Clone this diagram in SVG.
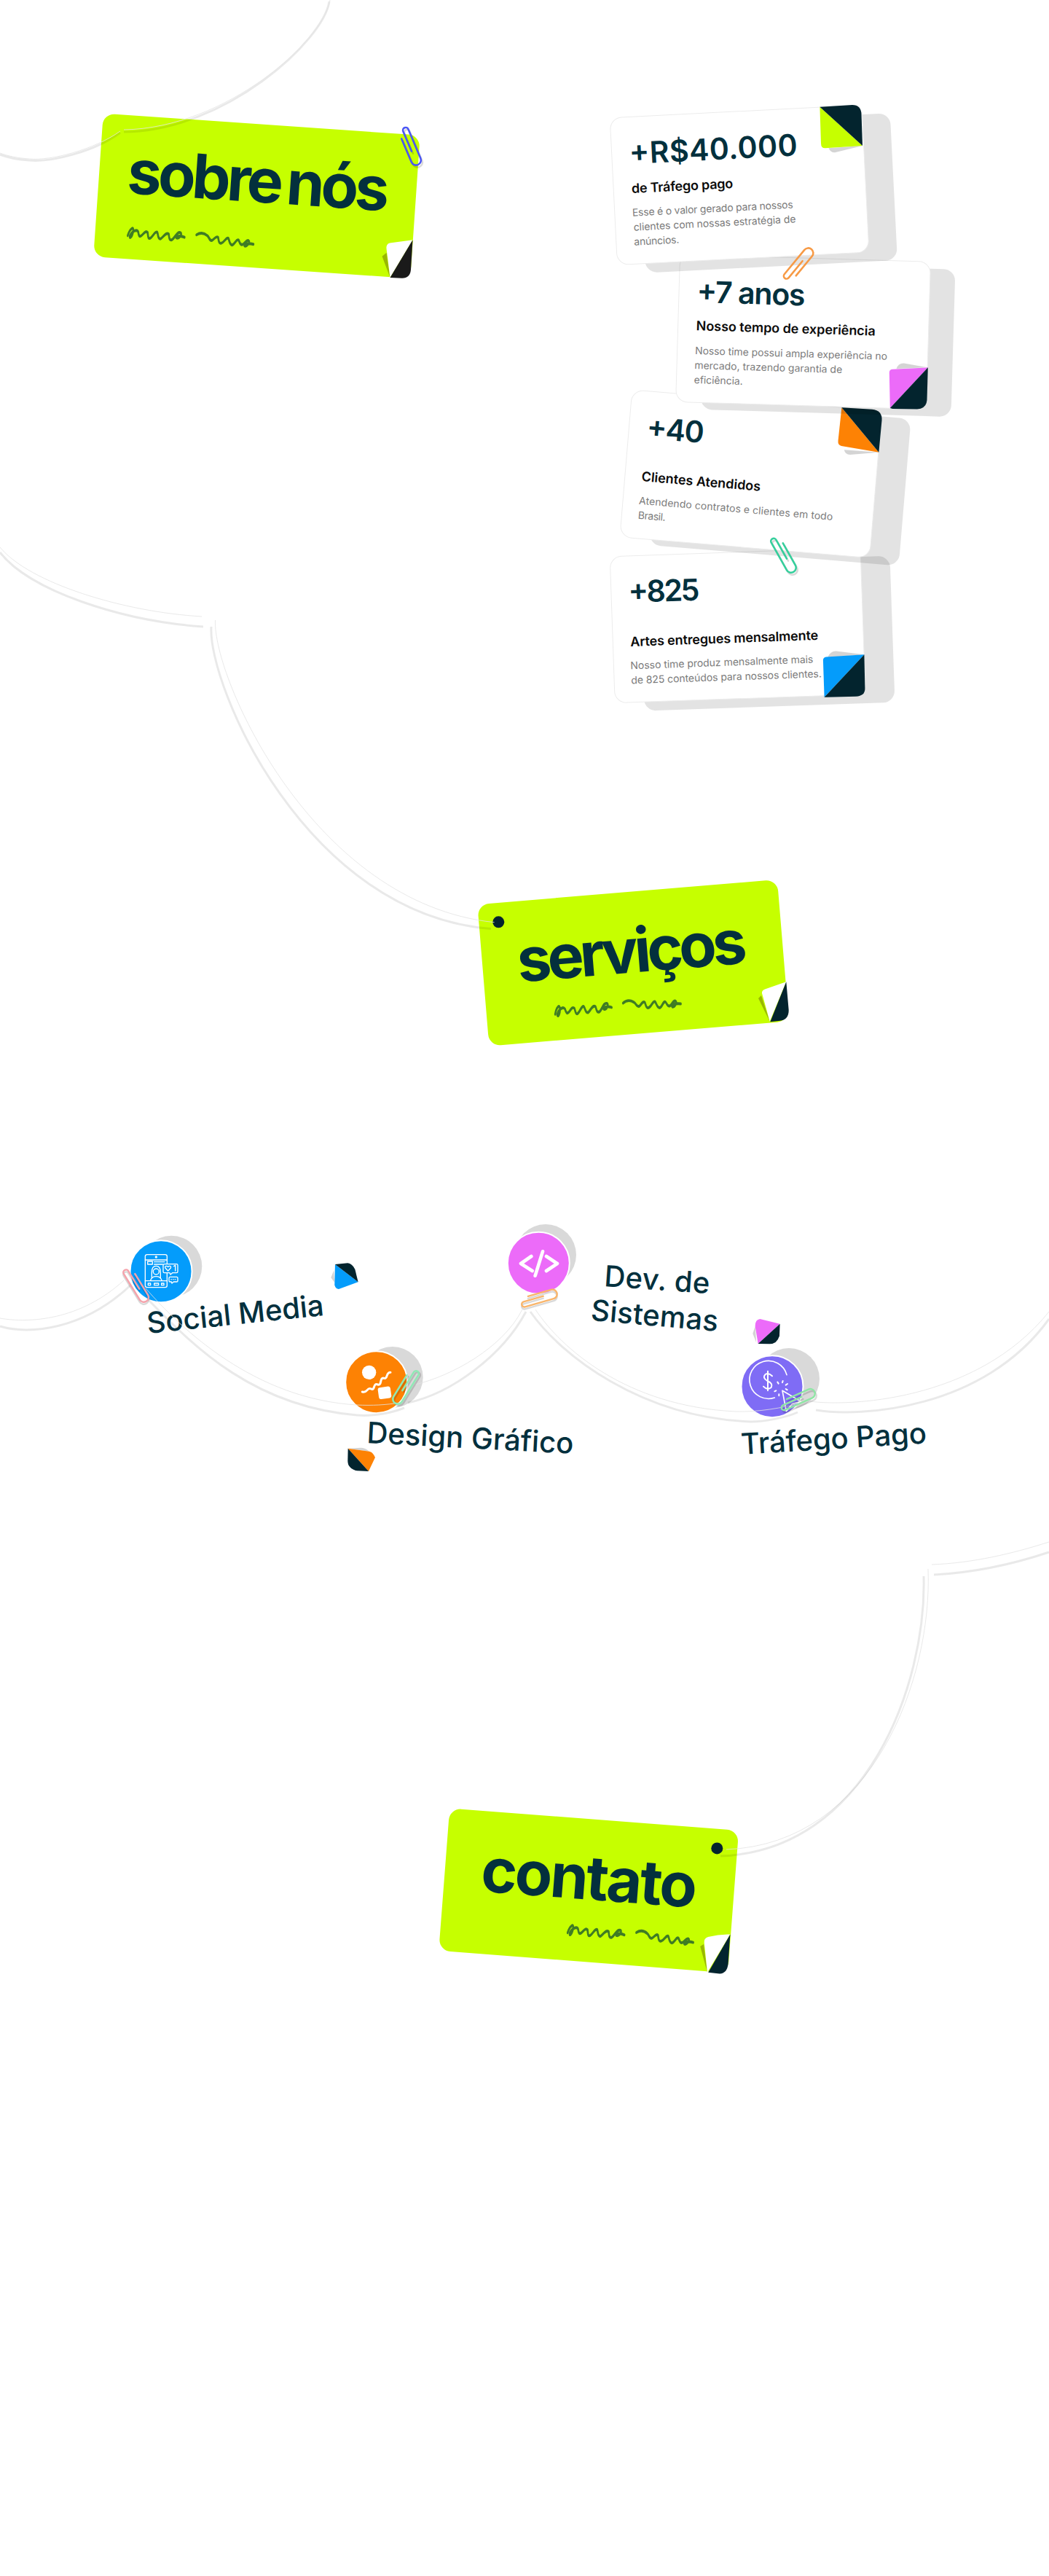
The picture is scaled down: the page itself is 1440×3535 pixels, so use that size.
<svg xmlns="http://www.w3.org/2000/svg" xmlns:xlink="http://www.w3.org/1999/xlink" width="1440" height="3535" viewBox="0 0 1440 3535">
<style>
text{font-family:Inter,"Liberation Sans",sans-serif}
.tag{fill:#c6ff00}
.big{font-size:84px;font-weight:700;fill:#03303d}
.sq{fill:none;stroke:#3f7c24;stroke-width:2.6;stroke-linecap:round;stroke-linejoin:round}
.card{fill:#fff;stroke:#ececec;stroke-width:1}
.shade{fill:#000;fill-opacity:.11}
.fshade{fill:#000;fill-opacity:.17}
.num{font-size:41px;font-weight:600;fill:#03303d}
.ttl{font-size:18px;font-weight:600;fill:#0b0b0b}
.dsc{font-size:14px;font-weight:400;fill:#7c7c7c}
.dark{fill:#03242e}
.lbl{font-size:40px;font-weight:500;fill:#03303d}
.disc{fill:#d9d9d9}
.ring{stroke:#fff;stroke-width:2}
.ico{fill:none;stroke:#fff;stroke-linecap:round;stroke-linejoin:round}
.thin{fill:none;stroke:#e4e4e4;stroke-opacity:.8;stroke-width:1}
.soft{fill:none;stroke:#000;stroke-opacity:.085;stroke-width:3;filter:url(#b)}
.clip{fill:none;stroke-width:3;stroke-linecap:round;stroke-linejoin:round}
.cs{stroke:#000;stroke-opacity:.15}
</style>
<defs>
<filter id="b" x="-5%" y="-5%" width="110%" height="110%"><feGaussianBlur stdDeviation=".7"/></filter>
<g id="squiggle">
<path d="M1 6C3 0 9 -4 8 2C7 8 3 9 4 6C6 2 13 -1 15 2C16 5 17 7 20 5C23 3 25 0 28 2C29 5 29 8 32 7C36 5 38 0 41 1C43 3 42 7 46 7C49 6 53 0 57 2C58 5 58 8 62 7C66 5 68 -1 73 0C76 1 72 6 68 5C66 4 72 2 79 4"/>
<path d="M95 1C101 -2 106 -1 110 1C113 2 113 6 117 5C120 4 122 0 125 2C126 4 126 8 130 7C134 6 136 1 139 2C141 4 141 8 145 8C149 7 150 2 153 3C155 4 155 8 159 7C162 6 164 2 167 3C170 4 165 9 162 8C160 6 167 5 174 6"/>
</g>
<path id="clip" d="M15 8L56 8A8 8 0 0 0 56 -8L5 -8A4.5 4.5 0 0 0 5 1L40 1"/>
</defs>

<g id="tag-sobre-nos">
<g transform="translate(141.8 155.6) rotate(3.95)">
<rect class="tag" width="436" height="197" rx="16"/>
<text class="big" x="39" y="107" word-spacing="-6" textLength="360">sobre nós</text>
<use href="#squiggle" class="sq" transform="translate(44 156) scale(1 1.5)"/>
</g>
<path d="M530.6 346.7L524.5 351.7L535.5 381Z" fill="#99b800"/>
<path d="M535.5 381L530.6 342Q529.5 335 535 333.5L566.5 329.3Z" fill="#fff"/>
<path d="M566.5 329.3L564 370Q563 381.7 552 381.7L535.5 381Z" fill="#1a1a1a"/>
</g>

<g id="stat-825">
<rect class="shade" width="344" height="201" rx="16" transform="translate(877.7 774.8) rotate(-2)"/>
<g transform="translate(837.2 763.8) rotate(-2)">
<rect class="card" width="344" height="201" rx="16"/>
<text class="num" x="23.5" y="64" textLength="98">+825</text>
<text class="ttl" x="24" y="124" textLength="258">Artes entregues mensalmente</text>
<text class="dsc" x="23" y="155.4" textLength="251">Nosso time produz mensalmente mais</text>
<text class="dsc" x="23.2" y="175.5" textLength="261.6">de 825 conteúdos para nossos clientes.</text>
</g>
<path class="fshade" d="M1136 902Q1140 893 1148 893.5L1186.4 898.3Z"/>
<path d="M1134 901.5L1186.4 898.3L1131.6 956.7L1129.9 906Q1130 902 1134 901.5Z" fill="#049cfb"/>
<path class="dark" d="M1186.4 898.3L1187.4 945Q1187.4 955 1175 955.7L1135 956.7L1131.6 956.7Z"/>
</g>

<g id="stat-40">
<rect class="shade" width="344" height="202.5" rx="16" transform="translate(907.8 546) rotate(4.8)"/>
<g transform="translate(867.8 535) rotate(4.8)">
<rect class="card" width="344" height="202.5" rx="16"/>
<text class="num" x="24.5" y="64.7" textLength="79">+40</text>
<text class="ttl" x="22.8" y="123.6" textLength="164">Clientes Atendidos</text>
<text class="dsc" x="22.1" y="155.4" textLength="267">Atendendo contratos e clientes em todo</text>
<text class="dsc" x="22.4" y="175.4" textLength="38">Brasil.</text>
</g>
<path class="fshade" d="M1158.8 617.3Q1160 624 1167 624L1206.4 620.7Z"/>
<path d="M1155.4 559.3L1206.4 620.7L1155 612Q1150 610.5 1150.5 605Z" fill="#fd8204"/>
<path class="dark" d="M1155.4 559.3L1197 561.7Q1211.5 563 1210.5 577L1206.4 620.7Z"/>
</g>

<g id="stat-7-anos">
<rect class="shade" width="344" height="202.5" rx="16" transform="translate(967.6 359.5) rotate(1.7)"/>
<g transform="translate(933.6 349) rotate(1.7)">
<rect class="card" width="344" height="202.5" rx="16"/>
<text class="num" x="24.5" y="65.2" textLength="149">+7 anos</text>
<text class="ttl" x="25.1" y="103.6" textLength="246">Nosso tempo de experiência</text>
<text class="dsc" x="24.4" y="136.3" textLength="264">Nosso time possui ampla experiência no</text>
<text class="dsc" x="24.2" y="156.4" textLength="203">mercado, trazendo garantia de</text>
<text class="dsc" x="24.2" y="176.4" textLength="67">eficiência.</text>
</g>
<path class="fshade" d="M1230.5 506Q1233 498 1241 498.5L1273.8 504.3Z"/>
<path d="M1225 506.7L1273.8 504.3L1221.8 560L1220.8 511Q1221 507 1225 506.7Z" fill="#ec6bf9"/>
<path class="dark" d="M1273.8 504.3L1272.5 549Q1271.5 561 1259 561.5L1225.3 561L1221.8 560Z"/>
</g>

<g id="stat-40000">
<rect class="shade" width="346" height="202" rx="16" transform="translate(876.2 172.7) rotate(-2.9)"/>
<g transform="translate(837.2 161.7) rotate(-2.9)">
<rect class="card" width="346" height="202" rx="16"/>
<text class="num" x="24" y="64.7" textLength="231">+R$40.000</text>
<text class="ttl" x="24.7" y="104.7" textLength="139.5">de Tráfego pago</text>
<text class="dsc" x="24.1" y="136.4" textLength="221">Esse é o valor gerado para nossos</text>
<text class="dsc" x="24.8" y="156.4" textLength="223">clientes com nossas estratégia de</text>
<text class="dsc" x="24.5" y="176.5" textLength="62">anúncios.</text>
</g>
<path class="fshade" d="M1137.5 203.3Q1140 209.5 1146 209.3L1184 200Z"/>
<path d="M1125.4 146.7L1184 200L1133 203.3Q1127 203.5 1127 196.7Z" fill="#c6ff00"/>
<path class="dark" d="M1125.4 146.7L1170 144Q1182 144 1182.5 156.7L1184 200Z"/>
</g>

<g id="tag-servicos">
<g transform="translate(655.3 1241.2) rotate(-4.75)">
<rect class="tag" width="413" height="195" rx="16"/>
<text class="big" x="48" y="110.8" textLength="316">serviços</text>
<use href="#squiggle" class="sq" transform="translate(93 150) scale(1 1.5)"/>
</g>
<circle class="dark" cx="684.3" cy="1265.3" r="8"/>
<path d="M1041 1370L1045 1366L1056.7 1401.7Z" fill="#99b800"/>
<path d="M1056.7 1401.7L1046 1363Q1045.5 1359 1050 1357.5L1079.3 1347.3Z" fill="#fff"/>
<path class="dark" d="M1079.3 1347.3L1082.7 1386Q1083 1400 1069 1401L1057.3 1402.3Z"/>
</g>

<g id="service-social">
<circle class="disc" cx="235.3" cy="1737.7" r="42"/>
<circle class="ring" cx="221" cy="1744.7" r="42.5" fill="#049cfb"/>
<g class="ico" stroke-width="4" transform="translate(140 1660) scale(.3333)">
<rect x="178" y="185" width="90" height="135" rx="8"/>
<path d="M178 207H268M178 293H268M215 215H258M215 225H250"/>
<circle cx="223" cy="195" r="3"/>
<rect x="188" y="213" width="20" height="12"/>
<rect x="190" y="303" width="10" height="8"/>
<rect x="215" y="303" width="18" height="8"/>
<rect x="245" y="303" width="10" height="8"/>
<circle cx="223" cy="255" r="12"/>
<path d="M205 280V258Q205 232 223 232Q241 232 241 258V280M200 291Q205 275 223 275Q241 275 246 291"/>
<path d="M257 224H307Q312 224 312 229V255Q312 260 307 260H290L282 267L279 260H257Q252 260 252 255V229Q252 224 257 224Z" fill="#049cfb"/>
<path d="M272 252L261 240Q258 232 266 232Q270 232 272 236Q274 232 278 232Q286 232 283 240ZM296 233L302 229V252"/>
<path d="M280 277H308Q312 277 312 281V293Q312 297 308 297H295L288 303L286 297H280Q276 297 276 293V281Q276 277 280 277ZM285 287H286M293 287H294M301 287H302"/>
</g>
<text class="lbl" transform="translate(203 1830) rotate(-5.9)" textLength="244">Social Media</text>
<g transform="translate(140 1660) scale(.3333)">
<path class="fshade" d="M955 250L943 280L958 300Z"/>
<path d="M960 225L1055 298L975 327Q962 327 958 310Z" fill="#049cfb"/>
<path class="dark" d="M960 225L1012 220Q1030 222 1042 245L1055 298Z"/>
</g>
</g>

<g id="service-design">
<circle class="disc" cx="538.7" cy="1890" r="42"/>
<circle class="ring" cx="516.7" cy="1896.7" r="42.5" fill="#fd8204"/>
<g class="ico" transform="translate(440 1820) scale(.3333)">
<circle cx="200" cy="190" r="29" fill="#fff" stroke="none"/>
<rect x="238" y="250" width="52" height="48" rx="9" fill="#fff" stroke="none" transform="rotate(-8 264 274)"/>
<path stroke-width="9" d="M172 270C195 276 190 250 208 258C226 266 215 232 236 240C254 246 242 208 262 214C278 218 268 190 288 190"/>
</g>
<text class="lbl" transform="translate(503 1980) rotate(3)" textLength="284">Design Gráfico</text>
<g transform="translate(440 1820) scale(.3333)">
<path class="fshade" d="M113 503L165 500Q185 500 200 515Z"/>
<path d="M113 503L200 515Q215 518 225 540L198 597Z" fill="#fd8204"/>
<path class="dark" d="M113 503L198 597L150 595Q112 585 112 555Z"/>
</g>
</g>

<g id="service-dev">
<circle class="disc" cx="749" cy="1722" r="42"/>
<circle class="ring" cx="739.3" cy="1733.3" r="42.5" fill="#ec6bf9"/>
<g class="ico" stroke-width="14" transform="translate(660 1650) scale(.3333)">
<path d="M208 222L165 252L212 282M255 202L224 302M270 222L315 252L270 282"/>
</g>
<text class="lbl" transform="translate(828.7 1765) rotate(4)" textLength="145">Dev. de</text>
<text class="lbl" transform="translate(810.3 1811.7) rotate(5)" textLength="175">Sistemas</text>
<g transform="translate(660 1650) scale(.3333)">
<path class="fshade" d="M1130 510L1120 540L1135 578Z"/>
<path d="M1150 480L1232 500L1142 582L1130 510Q1130 482 1150 480Z" fill="#ec6bf9"/>
<path class="dark" d="M1232 500L1230 550Q1220 583 1190 583L1142 582Z"/>
</g>
</g>

<g id="service-trafego">
<circle class="disc" cx="1083" cy="1892" r="42"/>
<circle class="ring" cx="1060" cy="1902.7" r="42.5" fill="#7f6cf5"/>
<g class="ico" stroke-width="5" transform="translate(980 1780) scale(.3333)">
<path d="M300 320A78 78 0 1 0 250 414"/>
<path stroke-width="6" d="M240 325Q225 310 212 318Q198 332 220 345Q245 355 236 372Q220 385 204 368M222 305V385"/>
<path stroke-width="6" d="M262 350L266 356M284 345L282 352M303 357L296 362M302 382L296 378M250 388L256 385M268 400L268 406"/>
<path stroke-width="5" d="M282 385L358 430L322 440L298 470Z"/>
</g>
<text class="lbl" transform="translate(1018 1996) rotate(-3.5)" textLength="255">Tráfego Pago</text>
</g>

<g id="tag-contato">
<g transform="translate(617.3 2481.4) rotate(4.4)">
<rect class="tag" width="398" height="196" rx="16"/>
<text class="big" x="50" y="110.3" textLength="297">contato</text>
<use href="#squiggle" class="sq" transform="translate(173.5 149) scale(1 1.5)"/>
</g>
<circle class="dark" cx="984.3" cy="2536.4" r="8"/>
<path d="M961.2 2671L966 2668L971 2706.7Z" fill="#99b800"/>
<path d="M971 2706.7L966.7 2666Q966 2660 972 2658Q987 2654 1002.4 2654.5Z" fill="#fff"/>
<path class="dark" d="M1002.4 2654.5L999.6 2695Q998 2708 988 2708.5L972.2 2706.7Z"/>
</g>

<g id="connectors">
<path class="soft" d="M452 2C444 56 309 180 170 181"/>
<path class="thin" d="M453 0C445 55 310 176 170 178"/>
<path class="soft" d="M165 182C130 208 70 223 40 220C25 219 10 216 0 212"/>
<path class="thin" d="M165 180C130 205 70 221 40 218C25 217 10 214 0 210"/>
<path class="thin" d="M0 751C40 800 170 840 277 846"/>
<path class="soft" d="M0 758C40 810 165 852 279 860"/>
<path class="thin" d="M295.5 851C292 930 430 1240 678.6 1265.7"/>
<path class="soft" d="M290 860C285 940 420 1255 674 1274.6"/>
<path class="thin" d="M0 1809C40 1816 110 1812 170 1757"/>
<path class="soft" d="M0 1820C40 1832 115 1825 180 1763"/>
<path class="thin" d="M200 1768C250 1825 350 1920 490 1928C510 1929 530 1928 548 1925"/>
<path class="soft" d="M203 1783C270 1852 350 1930 490 1942C515 1944 540 1938 555 1932"/>
<path class="thin" d="M570 1900C620 1888 690 1850 717 1797"/>
<path class="soft" d="M560 1925C620 1912 690 1860 722 1800"/>
<path class="thin" d="M735 1797C770 1850 860 1930 1010 1937C1040 1938 1075 1932 1100 1925"/>
<path class="soft" d="M728 1800C770 1860 880 1945 1030 1951C1050 1951 1080 1945 1095 1938"/>
<path class="thin" d="M1112 1923C1160 1930 1340 1925 1440 1800"/>
<path class="soft" d="M1120 1935C1180 1945 1350 1935 1440 1810"/>
<path class="thin" d="M1279 2147C1335 2145 1390 2132 1440 2116"/>
<path class="soft" d="M1282 2161C1340 2158 1395 2145 1440 2130"/>
<path class="thin" d="M1274 2153C1280 2300 1200 2530 997 2538"/>
<path class="soft" d="M1268 2163C1272 2310 1190 2540 989 2547"/>
</g>

<g id="paperclips">
<use href="#clip" class="clip cs" transform="translate(554.5 179) rotate(67) scale(.85)"/>
<use href="#clip" class="clip" stroke="#4a55f5" transform="translate(552.5 176) rotate(67) scale(.85)"/>
<use href="#clip" class="clip" stroke="#f79a45" transform="translate(1079.3 383.9) rotate(-50.5) scale(.85)"/>
<use href="#clip" class="clip cs" transform="translate(1064.6 740.5) rotate(60.7) scale(.85 -.85)"/>
<use href="#clip" class="clip" stroke="#35cf9c" transform="translate(1062.6 737.5) rotate(60.7) scale(.85 -.85)"/>
<use href="#clip" class="clip cs" transform="translate(173.3 1744.1) rotate(58.4) scale(.82 -.82)"/>
<use href="#clip" class="clip" stroke="#f5a3ac" transform="translate(173.3 1741.1) rotate(58.4) scale(.82 -.82)"/>
<use href="#clip" class="clip cs" transform="translate(572.8 1882) rotate(121.8) scale(.84)"/>
<use href="#clip" class="clip" stroke="#8fe9b5" transform="translate(570.8 1880) rotate(121.8) scale(.84)"/>
<use href="#clip" class="clip cs" transform="translate(715.2 1791.3) rotate(-16) scale(.8 -.8)"/>
<use href="#clip" class="clip" stroke="#f9b56b" transform="translate(715.2 1788.3) rotate(-16) scale(.8 -.8)"/>
<use href="#clip" class="clip cs" transform="translate(1073.5 1933.7) rotate(-24) scale(.8 -.8)"/>
<use href="#clip" class="clip" stroke="#8fe6a5" transform="translate(1071.5 1930.7) rotate(-24) scale(.8 -.8)"/>
</g>
</svg>
